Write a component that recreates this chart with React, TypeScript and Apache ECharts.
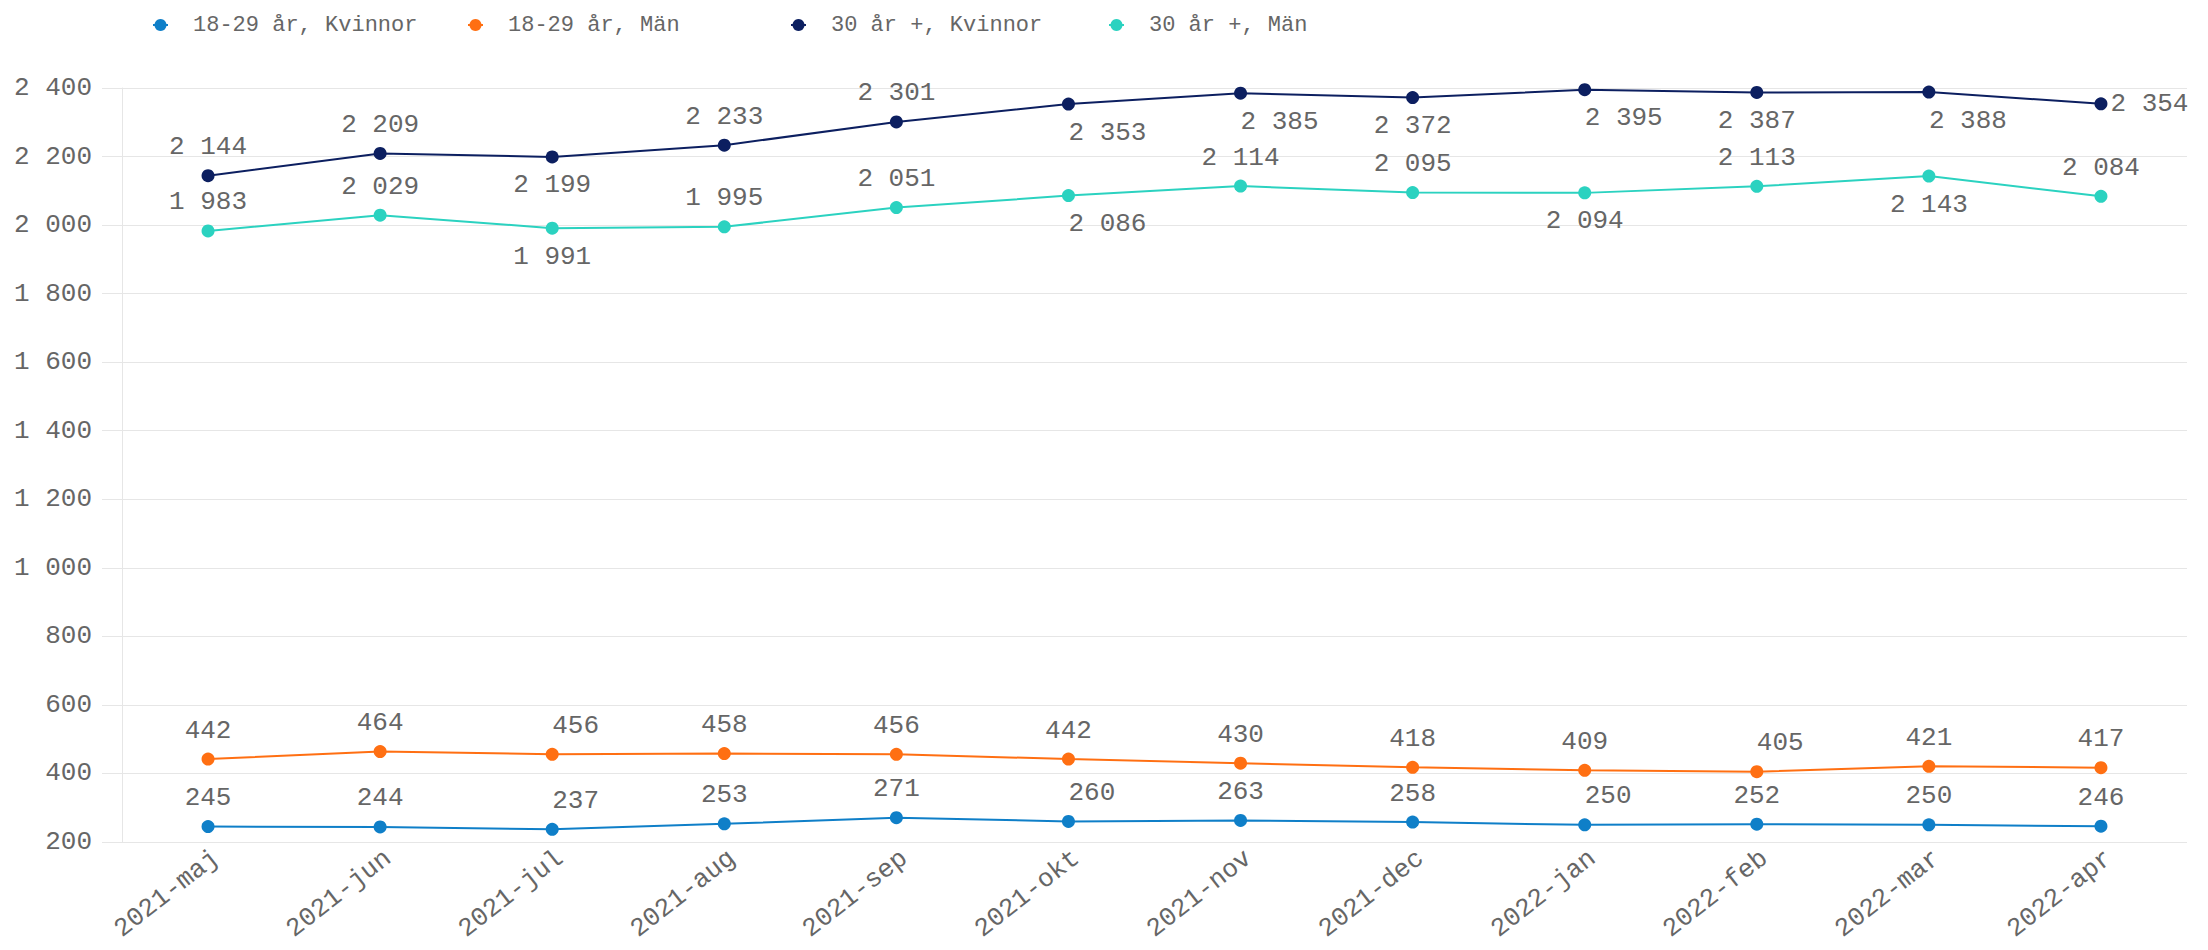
import React, { useEffect, useRef } from "react";
import * as echarts from "echarts";

const categories = [
  "2021-maj", "2021-jun", "2021-jul", "2021-aug", "2021-sep", "2021-okt",
  "2021-nov", "2021-dec", "2022-jan", "2022-feb", "2022-mar", "2022-apr",
];

const seriesNames = ["18-29 år, Kvinnor", "18-29 år, Män", "30 år +, Kvinnor", "30 år +, Män"];

const kvinnor1829 = [245, 244, 237, 253, 271, 260, 263, 258, 250, 252, 250, 246];
const man1829 = [442, 464, 456, 458, 456, 442, 430, 418, 409, 405, 421, 417];
const kvinnor30 = [2144, 2209, 2199, 2233, 2301, 2353, 2385, 2372, 2395, 2387, 2388, 2354];
const man30 = [1983, 2029, 1991, 1995, 2051, 2086, 2114, 2095, 2094, 2113, 2143, 2084];

const yTicks = { min: 200, max: 2400, interval: 200 };

// label placement per point (styling, not data)
const placeKvinnor1829 = ["t", "t", "tr", "t", "t", "tr", "t", "t", "tr", "t", "t", "t"];
const placeMan1829 = ["t", "t", "tr", "t", "t", "t", "t", "t", "t", "tr", "t", "t"];
const placeKvinnor30 = ["t", "t", "b", "t", "t", "br", "br", "b", "br", "b", "br", "r"];
const placeMan30 = ["t", "t", "b", "t", "t", "br", "t", "t", "b", "t", "b", "t"];

const colors = ["#0f7fc8", "#ff6f12", "#0c1f60", "#2bd2c0"];

const MONO = '"Liberation Mono", "DejaVu Sans Mono", monospace';
const TEXT = "#666666";
const GRID = "#e6e6e6";

const fmt = (v: number) => String(v).replace(/\B(?=(\d{3})+(?!\d))/g, " ");

function labelFor(p: string) {
  switch (p) {
    case "tr":
      return { position: "top", align: "left", offset: [4, 0] };
    case "b":
      return { position: "bottom" };
    case "br":
      return { position: "bottom", align: "left", offset: [4, 0] };
    case "r":
      return { position: "right", distance: 3 };
    default:
      return { position: "top" };
  }
}

function buildData(values: number[], places: string[]) {
  return values.map((v, i) => ({ value: v, label: labelFor(places[i]) }));
}

export default function App() {
  const ref = useRef<HTMLDivElement>(null);

  useEffect(() => {
    if (!ref.current) return;
    const chart = echarts.init(ref.current, null, { renderer: "svg" });
    const values = [kvinnor1829, man1829, kvinnor30, man30];
    const places = [placeKvinnor1829, placeMan1829, placeKvinnor30, placeMan30];
    const legendLefts = [147, 462, 785, 1103];

    chart.setOption({
      animation: false,
      backgroundColor: "#ffffff",
      color: colors,
      legend: seriesNames.map((n, i) => ({
        data: [n],
        left: legendLefts[i],
        top: 9,
        itemWidth: 15,
        itemHeight: 15,
        itemGap: 0,
        textStyle: {
          fontFamily: MONO,
          fontSize: 22,
          color: TEXT,
          padding: [0, 0, 0, 20],
        },
      })),
      grid: { left: 122, right: 21, top: 88, bottom: 108 },
      xAxis: {
        type: "category",
        data: categories,
        boundaryGap: true,
        axisLine: { show: false },
        axisTick: { show: false },
        splitLine: { show: false },
        axisLabel: {
          rotate: 38,
          margin: 3,
          verticalAlign: "top",
          fontFamily: MONO,
          fontSize: 26,
          color: TEXT,
          interval: 0,
        },
      },
      yAxis: {
        type: "value",
        min: yTicks.min,
        max: yTicks.max,
        interval: yTicks.interval,
        axisLine: { show: true, lineStyle: { color: GRID, width: 1 } },
        axisTick: { show: true, length: 20, lineStyle: { color: GRID, width: 1 } },
        splitLine: { show: true, lineStyle: { color: GRID, width: 1 } },
        axisLabel: {
          margin: 30,
          fontFamily: MONO,
          fontSize: 26,
          color: TEXT,
          formatter: (v: number) => fmt(v),
        },
      },
      series: seriesNames.map((n, i) => ({
        name: n,
        type: "line",
        data: buildData(values[i], places[i]),
        symbol: "circle",
        symbolSize: 13,
        showSymbol: true,
        lineStyle: { width: 2, color: colors[i] },
        itemStyle: { color: colors[i] },
        label: {
          show: true,
          distance: 9,
          fontFamily: MONO,
          fontSize: 26,
          color: TEXT,
          formatter: (p: any) => fmt(p.value),
        },
        labelLayout: { hideOverlap: false },
      })),
    });

    return () => chart.dispose();
  }, []);

  return (
    <div
      ref={ref}
      style={{ position: "absolute", left: 0, top: 0, width: 2208, height: 950 }}
    />
  );
}
